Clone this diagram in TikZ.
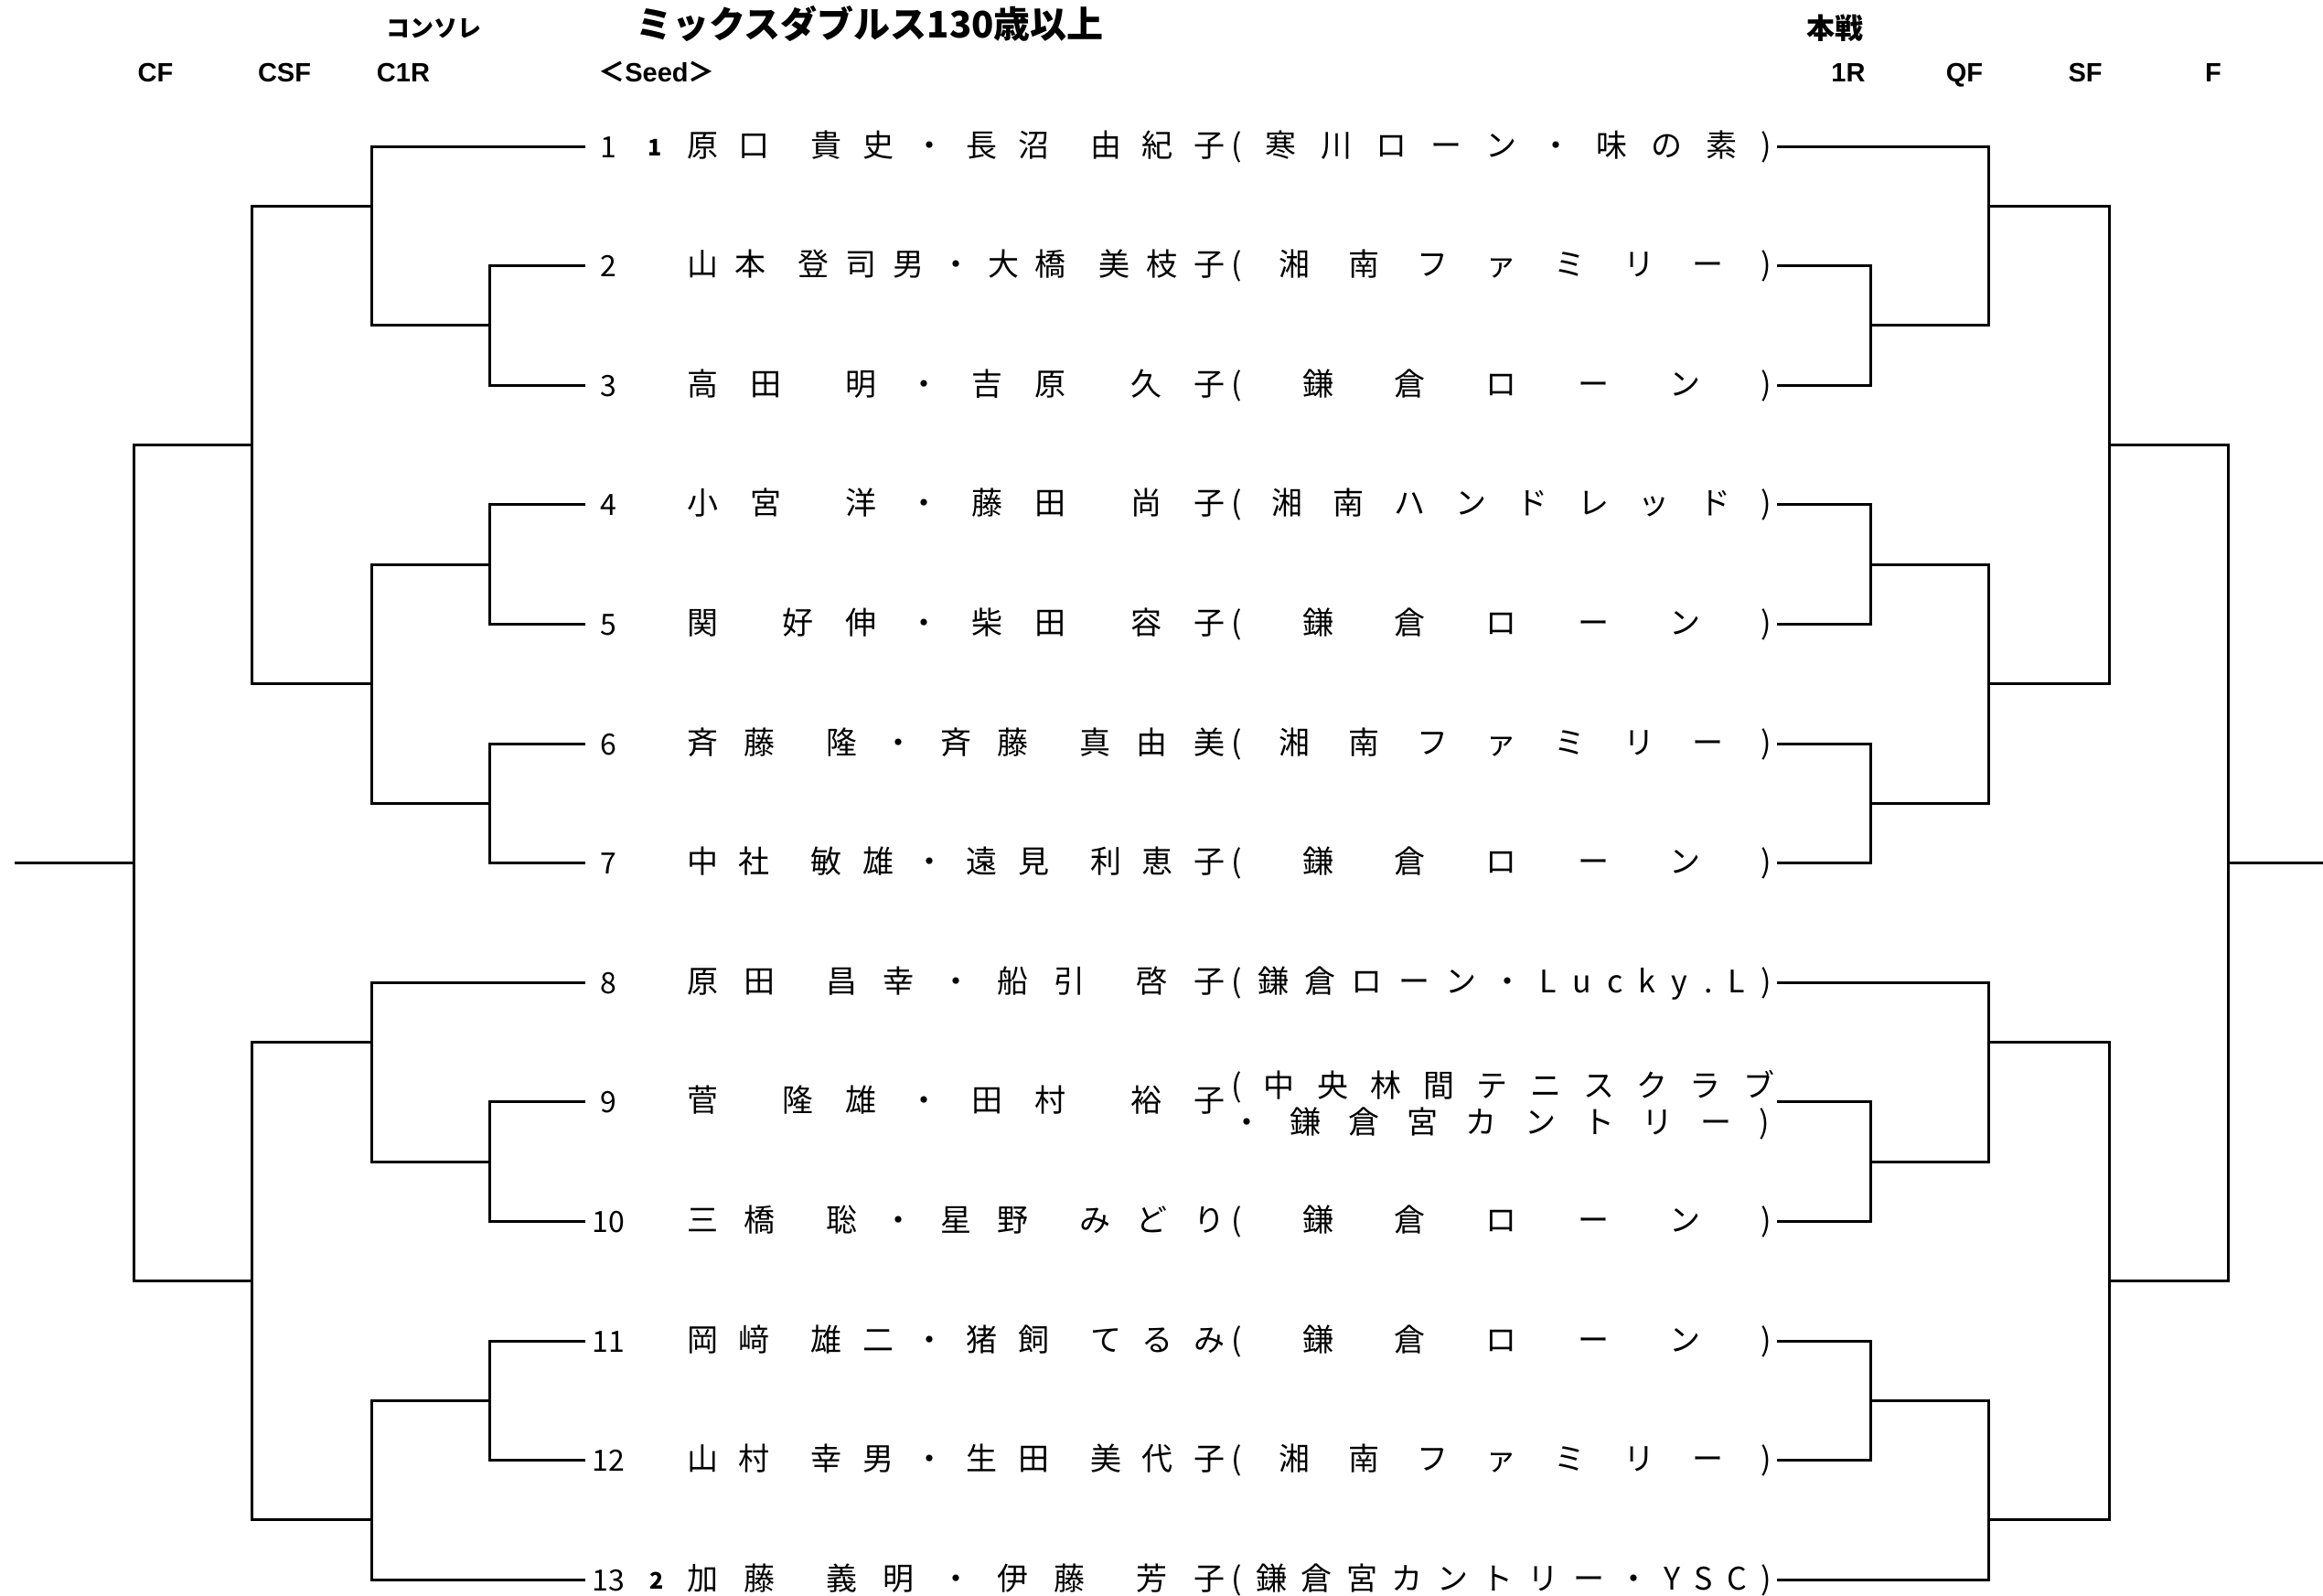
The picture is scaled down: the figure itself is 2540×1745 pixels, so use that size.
\documentclass[tikz,border=0pt]{standalone}
\usepackage{fontspec}
\setmainfont{Noto Sans CJK JP}
\newfontfamily\lat{Liberation Sans}
\makeatletter
\def\jbar{|}
\newcommand\jst[2]{\hbox to #1{\def\jsep{}\@tfor\jnx:=#2\do{\jsep\ifx\jnx\jbar\else\jnx\fi\def\jsep{\hfill}}}}
\makeatother
\tikzset{
  br/.style={line width=3pt, line join=miter},
  numtxt/.style={anchor=base, inner sep=0pt, font=\fontsize{32pt}{34pt}\selectfont},
  seedtxt/.style={anchor=base, inner sep=0pt, font=\fontsize{25pt}{27pt}\selectfont\bfseries},
  nametxt/.style={anchor=base west, inner sep=0pt, font=\fontsize{34pt}{40pt}\selectfont},
  clubtxt/.style={anchor=base west, inner sep=0pt, font=\fontsize{34pt}{40pt}\selectfont},
  hdr/.style={anchor=base, inner sep=0pt, font=\lat\bfseries\fontsize{29pt}{32pt}\selectfont},
  jhdr/.style={anchor=base, inner sep=0pt},
}
\newcommand\entry[3]{%
  \pgfmathsetmacro\ey{160+(#1-1)*130.6}%
  \node[numtxt] (num#1) at (665,\ey+12) {#1};
  \node[nametxt] (name#1) at (751,\ey+11) {\jst{588pt}{#2}};
  \node[clubtxt] (club#1) at (1346,\ey+11) {\jst{591pt}{#3}};
}
\begin{document}
\begin{tikzpicture}[x=1pt,y=-1pt]
\fill[white] (0,0) rectangle (2540,1745);
\useasboundingbox (0,0) rectangle (2540,1745);

% headers
\node[jhdr] (title) at (951,42) {\fontsize{40pt}{44pt}\selectfont\bfseries ミックスダブルス130歳以上};
\node[jhdr] (consol) at (474,41) {\fontsize{26pt}{28pt}\selectfont\bfseries コンソレ};
\node[jhdr] (honsen) at (2006,43) {\fontsize{31pt}{34pt}\selectfont\bfseries 本戦};
\node[hdr] (hCF) at (170,89) {CF};
\node[hdr] (hCSF) at (311,89) {CSF};
\node[hdr] (hC1R) at (441,89) {C1R};
\node[jhdr] (hSeed) at (718,89) {\fontsize{29pt}{32pt}\selectfont\bfseries ＜{\lat Seed}＞};
\node[hdr] (h1R) at (2021,89) {1R};
\node[hdr] (hQF) at (2148,89) {QF};
\node[hdr] (hSF) at (2280,89) {SF};
\node[hdr] (hF) at (2420,89) {F};

% entries
\entry{1}{原口|貴史・長沼|由紀子}{(寒川ローン・味の素)}
\entry{2}{山本|登司男・大橋|美枝子}{(湘南ファミリー)}
\entry{3}{高田|明・吉原|久子}{(鎌倉ローン)}
\entry{4}{小宮|洋・藤田|尚子}{(湘南ハンドレッド)}
\entry{5}{関|好伸・柴田|容子}{(鎌倉ローン)}
\entry{6}{斉藤|隆・斉藤|真由美}{(湘南ファミリー)}
\entry{7}{中社|敏雄・遠見|利恵子}{(鎌倉ローン)}
\entry{8}{原田|昌幸・船引|啓子}{(鎌倉ローン・Lucky.L)}
\node[numtxt] (num9) at (665,{160+8*130.6+12}) {9};
\node[nametxt] (name9) at (751,{160+8*130.6+11}) {\jst{588pt}{菅|隆雄・田村|裕子}};
\node[clubtxt] (club9a) at (1346,{160+8*130.6-5}) {\jst{594pt}{(中央林間テニスクラブ}};
\node[clubtxt] (club9b) at (1346,{160+8*130.6+35}) {\jst{589pt}{・鎌倉宮カントリー)}};
\entry{10}{三橋|聡・星野|みどり}{(鎌倉ローン)}
\entry{11}{岡﨑|雄二・猪飼|てるみ}{(鎌倉ローン)}
\entry{12}{山村|幸男・生田|美代子}{(湘南ファミリー)}
\entry{13}{加藤|義明・伊藤|芳子}{(鎌倉宮カントリー・YSC)}
\node[seedtxt] (seed1) at (716,{160+10}) {1};
\node[seedtxt] (seed2) at (718,{160+12*130.6+10}) {2};

% bracket coordinates
\foreach \k in {1,...,13} {
  \coordinate (L\k) at (640,{160+(\k-1)*130.6});
  \coordinate (R\k) at (1943,{160+(\k-1)*130.6});
}
\foreach \side/\xa/\xb/\xc/\xd/\xe in {l/535/406/275/146/16, r/2045/2174/2306/2436/2540} {
  \coordinate (\side a23) at (\xa,{160+1.5*130.6});
  \coordinate (\side a45) at (\xa,{160+3.5*130.6});
  \coordinate (\side a67) at (\xa,{160+5.5*130.6});
  \coordinate (\side a910) at (\xa,{160+8.5*130.6});
  \coordinate (\side a1112) at (\xa,{160+10.5*130.6});
  \coordinate (\side b1) at (\xb,{160+0.5*130.6});
  \coordinate (\side b2) at (\xb,{160+4.5*130.6});
  \coordinate (\side b3) at (\xb,{160+7.5*130.6});
  \coordinate (\side b4) at (\xb,{160+11.5*130.6});
  \coordinate (\side c1) at (\xc,{160+2.5*130.6});
  \coordinate (\side c2) at (\xc,{160+9.5*130.6});
  \coordinate (\side d) at (\xd,{160+6*130.6});
  \coordinate (\side stub) at (\xe,{160+6*130.6});
}
\foreach \s/\P in {l/L, r/R} {
  \draw[br] (\P2) -| (\s a23) |- (\P3);
  \draw[br] (\P4) -| (\s a45) |- (\P5);
  \draw[br] (\P6) -| (\s a67) |- (\P7);
  \draw[br] (\P9) -| (\s a910) |- (\P10);
  \draw[br] (\P11) -| (\s a1112) |- (\P12);
  \draw[br] (\P1) -| (\s b1) |- (\s a23);
  \draw[br] (\s a45) -| (\s b2) |- (\s a67);
  \draw[br] (\P8) -| (\s b3) |- (\s a910);
  \draw[br] (\s a1112) -| (\s b4) |- (\P13);
  \draw[br] (\s b1) -| (\s c1) |- (\s b2);
  \draw[br] (\s b3) -| (\s c2) |- (\s b4);
  \draw[br] (\s c1) -| (\s d) |- (\s c2);
  \draw[br] (\s d) -- (\s stub);
}
\end{tikzpicture}
\end{document}
